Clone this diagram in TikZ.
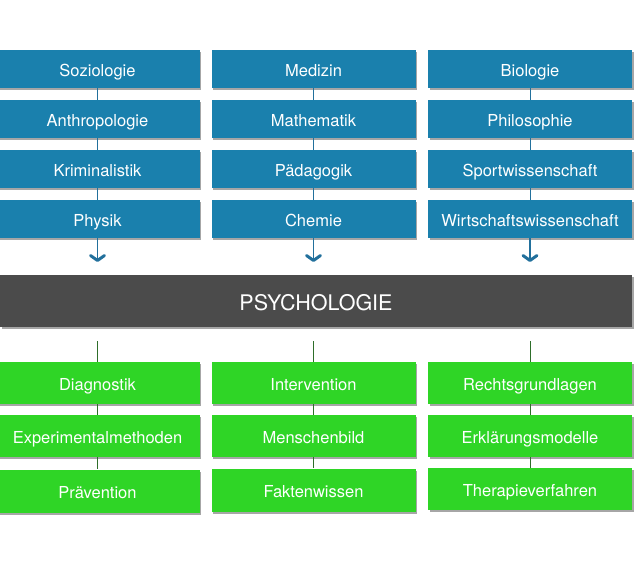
\documentclass[tikz,border=0pt]{standalone}
\usepackage{fontspec}
\setmainfont{TeX Gyre Heros}
\usetikzlibrary{arrows.meta,shadows}
\definecolor{bluebox}{HTML}{1A80AD}
\definecolor{blueline}{HTML}{22709C}
\definecolor{greenbox}{HTML}{2FD526}
\definecolor{greenline}{HTML}{2E6E2A}
\definecolor{barcol}{HTML}{4B4B4B}
\tikzset{
  x=1pt, y=-1pt,
  boxbase/.style={rectangle, text=white, minimum width=204pt,
    inner sep=0pt, font=\fontsize{16.5}{18}\selectfont, text height=15pt, text depth=0pt,
    drop shadow={shadow xshift=1.5pt, shadow yshift=-2pt, opacity=0.35, fill=black}},
  bbox/.style={boxbase, fill=bluebox, minimum height=38pt},
  gbox/.style={boxbase, fill=greenbox, minimum height=42pt},
  bconn/.style={draw=blueline, line width=0.9pt},
  barrow/.style={draw=blueline, line width=1.1pt, -{Straight Barb[length=5pt,width=14pt,line width=3pt,round]}},
  gconn/.style={draw=greenline, line width=0.8pt},
}
\begin{document}
\begin{tikzpicture}
\useasboundingbox (0,0) rectangle (640,570);
\foreach \c/\x in {1/97.5,2/313.5,3/530}{
  \coordinate (ar\c) at (\x,262);
  \coordinate (gs\c) at (\x,341);
}
\node[bbox] (b11) at (97.5,69) {Soziologie};
\node[bbox] (b12) at (97.5,119) {Anthropologie};
\node[bbox] (b13) at (97.5,169) {Kriminalistik};
\node[bbox] (b14) at (97.5,219) {Physik};
\node[bbox] (b21) at (313.5,69) {Medizin};
\node[bbox] (b22) at (313.5,119) {Mathematik};
\node[bbox] (b23) at (313.5,169) {Pädagogik};
\node[bbox] (b24) at (313.5,219) {Chemie};
\node[bbox] (b31) at (530,69) {Biologie};
\node[bbox] (b32) at (530,119) {Philosophie};
\node[bbox] (b33) at (530,169) {Sportwissenschaft};
\node[bbox] (b34) at (530,219) {Wirtschaftswissenschaft};
\foreach \c in {1,2,3}{
  \draw[bconn] (b\c1) -- (b\c2);
  \draw[bconn] (b\c2) -- (b\c3);
  \draw[bconn] (b\c3) -- (b\c4);
  \draw[barrow] (b\c4) -- (ar\c);
}
\node[rectangle, fill=barcol, text=white, minimum width=632pt, minimum height=52pt, inner sep=0pt,
  font=\fontsize{21.5}{24}\selectfont, text height=19pt, text depth=0pt,
  drop shadow={shadow xshift=1.5pt, shadow yshift=-2pt, opacity=0.35, fill=black}]
  (psy) at (316,301) {PSYCHOLOGIE};
\node[gbox] (g11) at (97.5,383) {Diagnostik};
\node[gbox] (g12) at (97.5,436) {Experimentalmethoden};
\node[gbox, minimum height=43pt] (g13) at (97.5,491) {Prävention};
\node[gbox] (g21) at (313.5,383) {Intervention};
\node[gbox] (g22) at (313.5,436) {Menschenbild};
\node[gbox, minimum height=43pt] (g23) at (313.5,490) {Faktenwissen};
\node[gbox] (g31) at (530,383) {Rechtsgrundlagen};
\node[gbox] (g32) at (530,436) {Erklärungsmodelle};
\node[gbox] (g33) at (530,489) {Therapieverfahren};
\foreach \c in {1,2,3}{
  \draw[gconn] (gs\c) -- (g\c1);
  \draw[gconn] (g\c1) -- (g\c2);
  \draw[gconn] (g\c2) -- (g\c3);
}
\end{tikzpicture}
\end{document}
